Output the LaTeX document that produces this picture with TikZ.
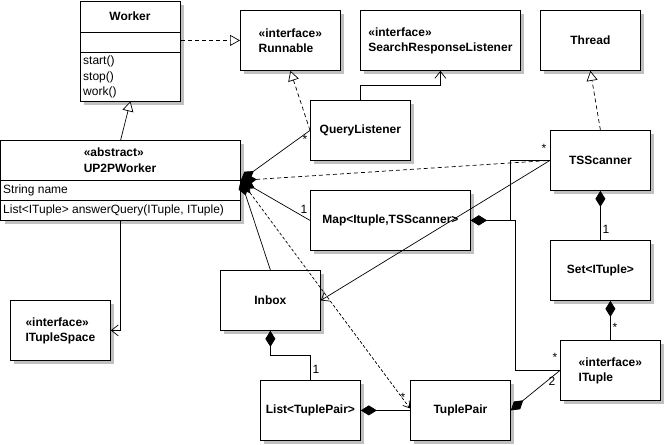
\documentclass[tikz,border=0pt]{standalone}
\usepackage{fontspec}
\setmainfont{Liberation Sans}
\usetikzlibrary{arrows.meta,calc}
\definecolor{shadowgray}{RGB}{192,192,192}
\begin{document}
\begin{tikzpicture}[x=1pt,y=-1pt,
  txt/.style={inner sep=0pt, font=\fontsize{12}{15}\selectfont},
  umlbox/.style={draw, fill=white, line width=0.8pt, inner sep=0pt, anchor=north west,
    font=\fontsize{12}{15}\selectfont\bfseries, align=left,
    preaction={fill=shadowgray, draw=none, transform canvas={xshift=4pt,yshift=-4pt}}},
  conn/.style={line width=0.7pt},
  dash4/.style={dash pattern=on 4pt off 3pt},
  dash3/.style={dash pattern=on 3pt off 2pt},
  gentip/.style={-{Triangle[length=10pt,width=11pt,fill=white]}},
  navtip/.style={-{Straight Barb[length=7pt,width=11pt]}},
  comptip/.style={{Diamond[length=16pt,width=10pt]}-},
  compnav/.style={{Diamond[length=16pt,width=10pt]}-{Straight Barb[length=6pt,width=8pt]}},
  mult/.style={inner sep=0pt, font=\fontsize{12}{12}\selectfont}
]
\useasboundingbox (0,0) rectangle (665,445);

% ---------- boxes ----------
\node[umlbox, minimum width=100pt, minimum height=100pt] (worker) at (80,0.5) {};
\draw[line width=0.8pt] (80,32) -- (180,32) (80,52) -- (180,52);
\node[txt, font=\fontsize{12}{15}\selectfont\bfseries] (workername) at (130,16) {Worker};
\node[txt, anchor=west] (wm1) at (83,61) {start()};
\node[txt, anchor=west] (wm2) at (83,77) {stop()};
\node[txt, anchor=west] (wm3) at (83,92) {work()};

\node[umlbox, minimum width=239.5pt, minimum height=80pt] (up) at (0.5,140) {};
\draw[line width=0.8pt] (0.5,180) -- (240,180) (0.5,200) -- (240,200);
\node[txt, font=\fontsize{12}{15.5}\selectfont\bfseries, align=left] (upname) at (120,160) {«abstract»\\UP2PWorker};
\node[txt, anchor=west] (upattr) at (3,190) {String name};
\node[txt, anchor=west] (upmeth) at (3,210) {List<ITuple> answerQuery(ITuple, ITuple)};

\node[umlbox, minimum width=100pt, minimum height=60pt] (run) at (240,10) {«interface»\\Runnable};
\node[umlbox, minimum width=160pt, minimum height=60pt] (srl) at (360,10) {«interface»\\SearchResponseListener};
\node[umlbox, minimum width=100pt, minimum height=60pt] (thread) at (540,10) {Thread};
\node[umlbox, minimum width=100pt, minimum height=60pt] (ql) at (310,100) {QueryListener};
\node[umlbox, minimum width=100pt, minimum height=60pt] (ts) at (550,130) {TSScanner};
\node[umlbox, minimum width=160pt, minimum height=60pt] (map) at (310,190) {Map<Ituple,TSScanner>};
\node[umlbox, minimum width=100pt, minimum height=60pt] (set) at (550,240) {Set<ITuple>};
\node[umlbox, minimum width=100pt, minimum height=60pt] (inbox) at (220,270) {Inbox};
\node[umlbox, minimum width=100pt, minimum height=60pt] (its) at (10,300) {«interface»\\ITupleSpace};
\node[umlbox, minimum width=100pt, minimum height=60pt] (ituple) at (560,340) {«interface»\\ITuple};
\node[umlbox, minimum width=100pt, minimum height=60pt] (list) at (260,380) {List<TuplePair>};
\node[umlbox, minimum width=100pt, minimum height=60pt] (tp) at (410,380) {TuplePair};

% ---------- connectors ----------
\draw[conn, dash4, gentip] (worker.east |- run.west) -- (run.west);
\draw[conn, gentip] (up.north) -- (worker.south);
\draw[conn, dash4, gentip] (ql.west) -- (run.south);
\draw[conn, navtip] (ql.north) -- ++(0,-15) -| (srl.south);
\draw[conn, dash4, gentip] (ts.north) -- (thread.south);
\draw[conn, navtip] (up.south) |- (its.east);

\draw[conn, comptip] (up.east) -- (ql.west);
\draw[conn, comptip, dash4] (up.east) -- (ts.west);
\draw[conn, comptip] (up.east) -- (map.west);
\draw[conn, comptip] (up.east) -- (inbox.north);
\draw[conn, compnav, dash3] (up.east) -- ([yshift=2pt]tp.west);

\draw[conn, navtip] (ts.west) -- (inbox.east);
\draw[conn, comptip] (map.east) -- ++(40,0) |- (ts.west);
\draw[conn, comptip] (map.east) -- ++(45,0) |- (ituple.west);
\draw[conn, comptip] (ts.south) -- (set.north);
\draw[conn, comptip] (ituple.north |- set.south) -- (ituple.north);
\draw[conn, comptip] (inbox.south) -- ++(0,25) -| (list.north);
\draw[conn, comptip] (list.east) -- (tp.west);
\draw[conn, comptip] (tp.east) -- (ituple.west);

% ---------- multiplicities ----------
\node[mult] (m1) at (305,139) {*};
\node[mult] (m2) at (544,148) {*};
\node[mult] (m3) at (304,209) {1};
\node[mult] (m4) at (403,397) {*};
\node[mult] (m5) at (555,357) {*};
\node[mult] (m6) at (552,381) {2};
\node[mult] (m7) at (606,229) {1};
\node[mult] (m8) at (615,327) {*};
\node[mult] (m9) at (316,369) {1};
\end{tikzpicture}
\end{document}
